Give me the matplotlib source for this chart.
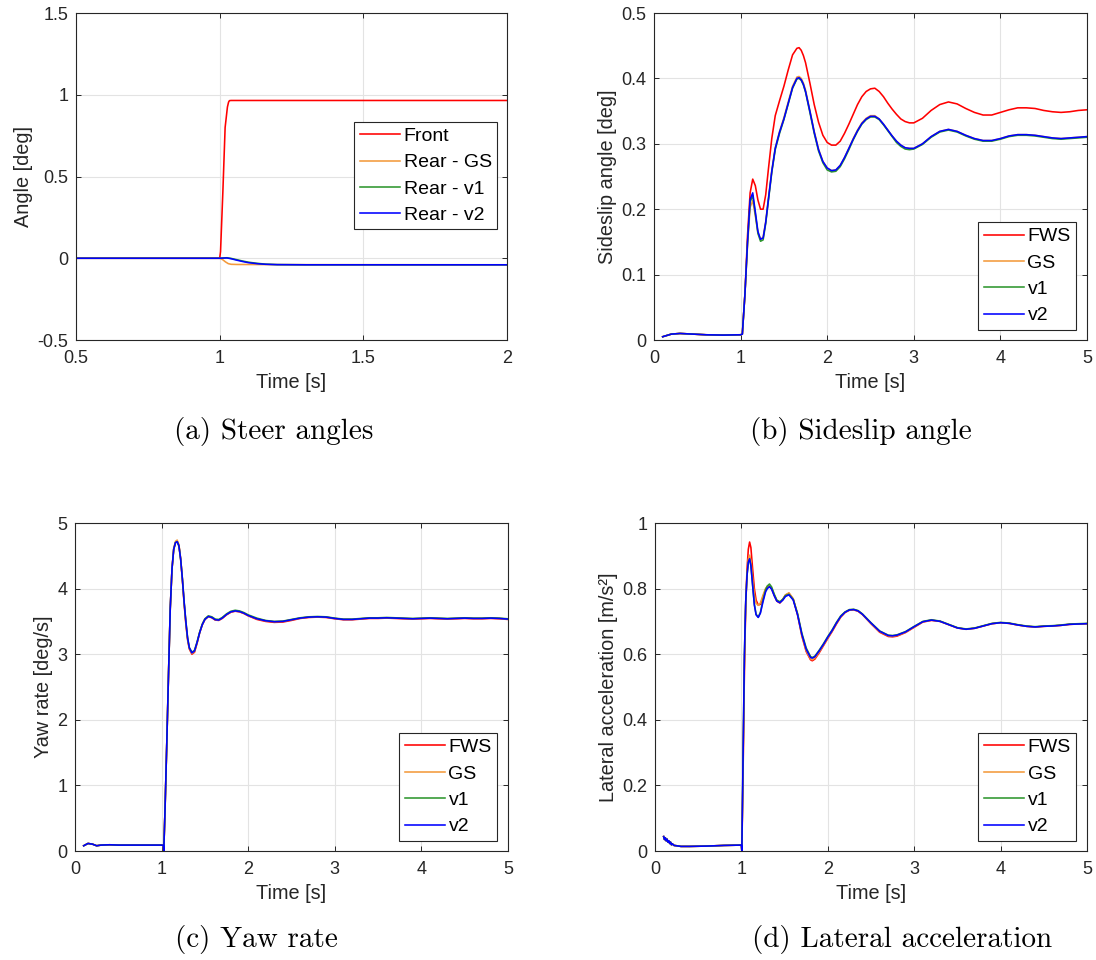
import matplotlib
matplotlib.use("Agg")
import matplotlib.pyplot as plt
from matplotlib.ticker import FormatStrFormatter

plt.rcParams["font.family"] = ["Liberation Sans", "DejaVu Sans"]
plt.rcParams["axes.unicode_minus"] = False

# ---------------- colours / labels ----------------
C_RED = "#FF0000"
C_ORANGE = "#F39A3C"
C_GREEN = "#2E962E"
C_BLUE = "#0000FF"

steer_labels = ["Front", "Rear - GS", "Rear - v1", "Rear - v2"]
case_labels = ["FWS", "GS", "v1", "v2"]

# ---------------- (a) steer angles ----------------
ta_front = [0.5, 1.0, 1.003, 1.011, 1.019, 1.027, 1.031, 1.034, 1.04, 2.0]
front = [0.0, 0.0, 0.04, 0.40, 0.80, 0.925, 0.955, 0.964, 0.965, 0.965]

ta_gs = [0.5, 1.0, 1.01, 1.02, 1.03, 1.04, 1.06, 1.2, 2.0]
rear_gs = [0.0, 0.0, -0.008, -0.022, -0.033, -0.037, -0.038, -0.039, -0.040]

ta_v = [0.5, 1.0, 1.025, 1.04, 1.06, 1.08, 1.10, 1.13, 1.16, 1.20, 1.30, 2.0]
rear_v1 = [0.0, 0.0, 0.003, -0.001, -0.009, -0.017, -0.024, -0.031, -0.036, -0.039, -0.040, -0.040]
rear_v2 = [0.0, 0.0, 0.002, -0.003, -0.012, -0.020, -0.027, -0.033, -0.037, -0.039, -0.040, -0.040]

# ---------------- (b) sideslip angle ----------------
tb = [0.1, 0.2, 0.3, 0.45, 0.6, 0.8, 1.0, 1.02,
      1.05, 1.08, 1.11, 1.14, 1.17, 1.2, 1.23, 1.26, 1.29, 1.32,
      1.36, 1.40,
      1.45, 1.50, 1.55, 1.60, 1.65, 1.675, 1.70, 1.725, 1.75, 1.80, 1.85, 1.90, 1.95, 2.0,
      2.05, 2.1, 2.15, 2.2, 2.25, 2.3, 2.35, 2.4, 2.45, 2.5,
      2.55, 2.6, 2.65, 2.7, 2.75, 2.8, 2.85, 2.9, 2.95, 3.0,
      3.1, 3.2, 3.3, 3.4, 3.5, 3.6, 3.7, 3.8, 3.9, 4.0,
      4.1, 4.2, 4.3, 4.4, 4.5, 4.6, 4.7, 4.8, 4.9, 5.0]
beta_pre = [0.005, 0.009, 0.010, 0.009, 0.008, 0.0075, 0.008, 0.009]
beta_fws = beta_pre + [
    0.07, 0.16, 0.225, 0.246, 0.236, 0.214, 0.200, 0.200, 0.222, 0.260,
    0.308, 0.343,
    0.366, 0.388, 0.413, 0.436, 0.446, 0.447, 0.443, 0.435, 0.424, 0.393, 0.360, 0.333, 0.313, 0.302,
    0.298, 0.298, 0.304, 0.316, 0.330, 0.345, 0.360, 0.372, 0.380, 0.384,
    0.385, 0.380, 0.372, 0.362, 0.353, 0.345, 0.338, 0.334, 0.332, 0.332,
    0.339, 0.351, 0.360, 0.364, 0.361, 0.354, 0.348, 0.344, 0.344, 0.348,
    0.352, 0.355, 0.355, 0.354, 0.351, 0.349, 0.348, 0.349, 0.351, 0.352]
beta_gs = beta_pre + [
    0.07, 0.145, 0.203, 0.213, 0.190, 0.164, 0.154, 0.157, 0.181, 0.215,
    0.259, 0.294,
    0.319, 0.340, 0.364, 0.388, 0.402, 0.403, 0.400, 0.393, 0.382, 0.351, 0.319, 0.292, 0.273, 0.263,
    0.259, 0.260, 0.267, 0.279, 0.293, 0.308, 0.321, 0.332, 0.339, 0.343,
    0.343, 0.338, 0.330, 0.321, 0.312, 0.304, 0.298, 0.294, 0.293, 0.293,
    0.300, 0.311, 0.319, 0.322, 0.319, 0.313, 0.308, 0.305, 0.305, 0.308,
    0.312, 0.314, 0.314, 0.313, 0.311, 0.309, 0.308, 0.309, 0.310, 0.311]
beta_v1 = beta_pre + [
    0.07, 0.148, 0.211, 0.221, 0.193, 0.163, 0.151, 0.153, 0.178, 0.212,
    0.256, 0.291,
    0.316, 0.337, 0.361, 0.385, 0.399, 0.400, 0.397, 0.390, 0.379, 0.348, 0.316, 0.289, 0.271, 0.260,
    0.257, 0.258, 0.265, 0.277, 0.291, 0.306, 0.319, 0.330, 0.337, 0.341,
    0.341, 0.337, 0.329, 0.320, 0.311, 0.302, 0.296, 0.292, 0.291, 0.292,
    0.299, 0.310, 0.318, 0.321, 0.318, 0.312, 0.307, 0.304, 0.304, 0.307,
    0.311, 0.313, 0.313, 0.312, 0.310, 0.308, 0.307, 0.308, 0.309, 0.310]
beta_v2 = beta_pre + [
    0.07, 0.15, 0.215, 0.225, 0.196, 0.166, 0.154, 0.156, 0.180, 0.214,
    0.258, 0.293,
    0.318, 0.338, 0.362, 0.386, 0.400, 0.401, 0.398, 0.391, 0.380, 0.350, 0.318, 0.291, 0.273, 0.263,
    0.259, 0.260, 0.267, 0.279, 0.293, 0.307, 0.320, 0.331, 0.338, 0.342,
    0.342, 0.338, 0.330, 0.321, 0.312, 0.304, 0.298, 0.294, 0.293, 0.293,
    0.300, 0.311, 0.319, 0.322, 0.319, 0.313, 0.308, 0.305, 0.305, 0.308,
    0.312, 0.314, 0.314, 0.313, 0.311, 0.309, 0.308, 0.309, 0.310, 0.311]

# ---------------- (c) yaw rate ----------------
tc = [0.1, 0.15, 0.2, 0.25, 0.3, 0.4, 0.5, 0.7, 0.9, 1.0, 1.02, 1.025,
      1.04, 1.06, 1.08, 1.10, 1.12, 1.14, 1.16, 1.18, 1.2, 1.22, 1.24, 1.26, 1.28, 1.3, 1.32,
      1.35, 1.38, 1.41, 1.44, 1.47, 1.5,
      1.54, 1.58, 1.62, 1.66, 1.7,
      1.75, 1.8, 1.85, 1.9, 1.95, 2.0,
      2.1, 2.2, 2.3, 2.4, 2.5, 2.6, 2.7, 2.8, 2.9, 3.0,
      3.1, 3.2, 3.3, 3.4, 3.5, 3.6, 3.7, 3.8, 3.9, 4.0,
      4.1, 4.2, 4.3, 4.4, 4.5, 4.6, 4.7, 4.8, 4.9, 5.0]
yaw_pre = [0.08, 0.115, 0.105, 0.08, 0.09, 0.095, 0.09, 0.09, 0.09, 0.09, 0.085, 0.0]
yaw_fws = yaw_pre + [
    0.65, 1.65, 2.7, 3.7, 4.3, 4.6, 4.7, 4.72, 4.66, 4.45, 4.13, 3.77, 3.46, 3.22, 3.08,
    3.0, 3.03, 3.17, 3.33, 3.45, 3.53,
    3.575, 3.555, 3.52, 3.515, 3.545,
    3.6, 3.64, 3.655, 3.645, 3.62, 3.585,
    3.53, 3.5, 3.485, 3.49, 3.515, 3.545, 3.56, 3.565, 3.56, 3.54,
    3.525, 3.525, 3.535, 3.545, 3.545, 3.55, 3.545, 3.54, 3.535, 3.54,
    3.545, 3.54, 3.535, 3.54, 3.545, 3.54, 3.54, 3.545, 3.54, 3.53]
yaw_gs = yaw_pre + [
    0.65, 1.65, 2.7, 3.7, 4.3, 4.62, 4.72, 4.74, 4.67, 4.46, 4.15, 3.79, 3.48, 3.23, 3.09,
    3.01, 3.04, 3.17, 3.33, 3.45, 3.53,
    3.575, 3.56, 3.525, 3.52, 3.55,
    3.605, 3.645, 3.66, 3.65, 3.625, 3.59,
    3.54, 3.51, 3.495, 3.5, 3.525, 3.55, 3.565, 3.57, 3.565, 3.545,
    3.53, 3.53, 3.54, 3.55, 3.55, 3.555, 3.55, 3.545, 3.54, 3.545,
    3.55, 3.545, 3.54, 3.545, 3.55, 3.545, 3.545, 3.55, 3.545, 3.535]
yaw_v1 = yaw_pre + [
    0.65, 1.65, 2.7, 3.7, 4.3, 4.6, 4.7, 4.715, 4.65, 4.45, 4.15, 3.8, 3.5, 3.25, 3.1,
    3.03, 3.06, 3.19, 3.34, 3.46, 3.54,
    3.585, 3.57, 3.535, 3.53, 3.56,
    3.615, 3.655, 3.67, 3.66, 3.635, 3.6,
    3.55, 3.515, 3.5, 3.505, 3.53, 3.555, 3.57, 3.575, 3.57, 3.55,
    3.535, 3.535, 3.545, 3.555, 3.555, 3.56, 3.555, 3.55, 3.545, 3.55,
    3.555, 3.55, 3.545, 3.55, 3.555, 3.55, 3.55, 3.555, 3.55, 3.54]
yaw_v2 = yaw_pre + [
    0.65, 1.65, 2.7, 3.7, 4.3, 4.6, 4.7, 4.715, 4.65, 4.45, 4.15, 3.8, 3.5, 3.25, 3.1,
    3.02, 3.05, 3.18, 3.33, 3.45, 3.53,
    3.575, 3.56, 3.525, 3.52, 3.55,
    3.605, 3.645, 3.66, 3.65, 3.625, 3.59,
    3.54, 3.51, 3.495, 3.5, 3.525, 3.55, 3.565, 3.57, 3.565, 3.545,
    3.53, 3.53, 3.54, 3.55, 3.55, 3.555, 3.55, 3.545, 3.54, 3.545,
    3.55, 3.545, 3.54, 3.545, 3.55, 3.545, 3.545, 3.55, 3.545, 3.535]

# ---------------- (d) lateral acceleration ----------------
td = [0.1, 0.11, 0.12, 0.13, 0.14, 0.15, 0.16, 0.17, 0.18, 0.19, 0.2, 0.22, 0.25, 0.3,
      0.4, 0.6, 0.8, 1.0, 1.005,
      1.02, 1.035, 1.05, 1.065, 1.08, 1.095, 1.11, 1.13, 1.15, 1.17, 1.195, 1.22,
      1.25, 1.28, 1.3, 1.325, 1.35, 1.38, 1.41, 1.445, 1.48, 1.51, 1.55,
      1.6, 1.65, 1.7, 1.75, 1.8, 1.82, 1.85, 1.9, 1.95, 2.0, 2.05, 2.1, 2.15, 2.2,
      2.25, 2.3, 2.35, 2.4,
      2.5, 2.6, 2.7, 2.75, 2.8, 2.9, 3.0,
      3.1, 3.2, 3.3, 3.4, 3.5, 3.6, 3.7, 3.8, 3.9, 4.0,
      4.1, 4.2, 4.3, 4.4, 4.5, 4.6, 4.7, 4.8, 4.9, 5.0]
ay_pre = [0.044, 0.035, 0.040, 0.031, 0.036, 0.027, 0.031, 0.023, 0.027, 0.019, 0.022,
          0.017, 0.016, 0.014, 0.014, 0.015, 0.017, 0.018, 0.0]
ay_fws = ay_pre + [
    0.25, 0.55, 0.75, 0.86, 0.92, 0.942, 0.925, 0.86, 0.80, 0.765, 0.75, 0.752,
    0.775, 0.798, 0.805, 0.808, 0.800, 0.780, 0.762, 0.756, 0.767, 0.780, 0.786,
    0.768, 0.72, 0.655, 0.608, 0.583, 0.580, 0.585, 0.604, 0.626, 0.648, 0.669, 0.692, 0.713, 0.727,
    0.734, 0.735, 0.731, 0.721,
    0.693, 0.667, 0.654, 0.653, 0.655, 0.666, 0.682,
    0.698, 0.703, 0.700, 0.690, 0.680, 0.676, 0.679, 0.686, 0.693, 0.696,
    0.694, 0.689, 0.685, 0.683, 0.685, 0.686, 0.688, 0.691, 0.692, 0.693]
ay_gs = ay_pre + [
    0.27, 0.57, 0.75, 0.845, 0.89, 0.902, 0.885, 0.83, 0.78, 0.755, 0.749, 0.756,
    0.78, 0.80, 0.807, 0.810, 0.801, 0.781, 0.763, 0.757, 0.768, 0.781, 0.787,
    0.769, 0.722, 0.658, 0.611, 0.586, 0.583, 0.588, 0.607, 0.628, 0.65, 0.671, 0.694, 0.714, 0.728,
    0.735, 0.736, 0.732, 0.722,
    0.694, 0.669, 0.656, 0.655, 0.657, 0.667, 0.683,
    0.699, 0.704, 0.700, 0.690, 0.680, 0.676, 0.679, 0.686, 0.693, 0.696,
    0.694, 0.689, 0.685, 0.683, 0.685, 0.686, 0.688, 0.691, 0.692, 0.693]
ay_v1 = ay_pre + [
    0.3, 0.6, 0.76, 0.84, 0.88, 0.89, 0.87, 0.81, 0.752, 0.722, 0.713, 0.728,
    0.765, 0.797, 0.808, 0.814, 0.805, 0.783, 0.765, 0.760, 0.768, 0.779, 0.783,
    0.767, 0.724, 0.664, 0.619, 0.593, 0.590, 0.594, 0.612, 0.632, 0.654, 0.674, 0.697, 0.717, 0.729,
    0.736, 0.737, 0.733, 0.723,
    0.696, 0.671, 0.658, 0.657, 0.659, 0.669, 0.685,
    0.700, 0.705, 0.701, 0.691, 0.681, 0.677, 0.680, 0.687, 0.694, 0.697,
    0.695, 0.690, 0.686, 0.684, 0.686, 0.687, 0.689, 0.692, 0.693, 0.694]
ay_v2 = ay_pre + [
    0.3, 0.6, 0.76, 0.84, 0.88, 0.891, 0.87, 0.81, 0.75, 0.72, 0.712, 0.725,
    0.76, 0.79, 0.80, 0.806, 0.798, 0.778, 0.762, 0.757, 0.765, 0.776, 0.781,
    0.765, 0.72, 0.66, 0.615, 0.59, 0.588, 0.592, 0.61, 0.63, 0.652, 0.672, 0.695, 0.715, 0.728,
    0.735, 0.736, 0.732, 0.722,
    0.695, 0.67, 0.657, 0.656, 0.658, 0.668, 0.684,
    0.699, 0.704, 0.700, 0.690, 0.680, 0.676, 0.679, 0.686, 0.693, 0.696,
    0.694, 0.689, 0.685, 0.683, 0.685, 0.686, 0.688, 0.691, 0.692, 0.693]

# ---------------- figure ----------------
W, H = 1096, 960
fig = plt.figure(figsize=(W / 100, H / 100), dpi=100)


def px_axes(left, top, right, bottom):
    return fig.add_axes([left / W, 1 - bottom / H, (right - left) / W, (bottom - top) / H])


AXC = "#262626"
LW = 1.15
TICK_FS = 13
LABEL_FS = 14.3
LEG_FS = 14


def style(ax, xlim, xticks, ylim, yticks, xlabel, ylabel):
    ax.set_xlim(*xlim)
    ax.set_ylim(*ylim)
    ax.set_xticks(xticks)
    ax.set_yticks(yticks)
    ax.xaxis.set_major_formatter(FormatStrFormatter("%g"))
    ax.yaxis.set_major_formatter(FormatStrFormatter("%g"))
    ax.grid(True, color="#E3E3E3", linewidth=0.8)
    ax.set_axisbelow(True)
    for s in ax.spines.values():
        s.set_color(AXC)
        s.set_linewidth(0.8)
    ax.tick_params(direction="in", length=3.5, width=0.7, color=AXC,
                   labelcolor=AXC, labelsize=TICK_FS, top=True, right=True)
    ax.tick_params(axis="x", pad=7)
    ax.tick_params(axis="y", pad=5.5)
    ax.set_xlabel(xlabel, fontsize=LABEL_FS, color=AXC, labelpad=4.5)
    ax.set_ylabel(ylabel, fontsize=LABEL_FS, color=AXC, labelpad=3)


def legend(ax, labels, anchor, loc):
    lg = ax.legend(labels, loc=loc, bbox_to_anchor=anchor, borderaxespad=0,
                   fontsize=LEG_FS, fancybox=False, framealpha=1, edgecolor=AXC,
                   handlelength=2.05, handletextpad=0.2, labelspacing=0.45,
                   borderpad=0.28)
    lg.get_frame().set_linewidth(0.8)


# (a)
ax = px_axes(76, 13, 507, 340)
ax.plot(ta_front, front, color=C_RED, lw=LW)
ax.plot(ta_gs, rear_gs, color=C_ORANGE, lw=LW)
ax.plot(ta_v, rear_v1, color=C_GREEN, lw=LW)
ax.plot(ta_v, rear_v2, color=C_BLUE, lw=LW)
style(ax, (0.5, 2), [0.5, 1, 1.5, 2], (-0.5, 1.5), [-0.5, 0, 0.5, 1, 1.5],
      "Time [s]", "Angle [deg]")
legend(ax, steer_labels, (0.977, 0.667), "upper right")

# (b)
ax = px_axes(654, 13, 1087, 340)
for y, c in zip([beta_fws, beta_gs, beta_v1, beta_v2], [C_RED, C_ORANGE, C_GREEN, C_BLUE]):
    ax.plot(tb, y, color=c, lw=LW)
style(ax, (0, 5), range(6), (0, 0.5), [0, 0.1, 0.2, 0.3, 0.4, 0.5],
      "Time [s]", "Sideslip angle [deg]")
legend(ax, case_labels, (0.975, 0.031), "lower right")

# (c)
ax = px_axes(75, 523, 508, 851)
for y, c in zip([yaw_fws, yaw_gs, yaw_v1, yaw_v2], [C_RED, C_ORANGE, C_GREEN, C_BLUE]):
    ax.plot(tc, y, color=c, lw=LW)
style(ax, (0, 5), range(6), (0, 5), range(6), "Time [s]", "Yaw rate [deg/s]")
legend(ax, case_labels, (0.975, 0.031), "lower right")

# (d)
ax = px_axes(655, 523, 1087, 851)
for y, c in zip([ay_fws, ay_gs, ay_v1, ay_v2], [C_RED, C_ORANGE, C_GREEN, C_BLUE]):
    ax.plot(td, y, color=c, lw=LW)
style(ax, (0, 5), range(6), (0, 1), [0, 0.2, 0.4, 0.6, 0.8, 1],
      "Time [s]", "Lateral acceleration [m/s²]")
legend(ax, case_labels, (0.975, 0.031), "lower right")

# captions
cap = dict(fontsize=21, family="cmr10", va="center", ha="left", color="black")
fig.text(174 / W, 1 - 432 / H, "(a) Steer angles", **cap)
fig.text(750 / W, 1 - 432 / H, "(b) Sideslip angle", **cap)
fig.text(175 / W, 1 - 940 / H, "(c) Yaw rate", **cap)
fig.text(752 / W, 1 - 940 / H, "(d) Lateral acceleration", **cap)

fig.savefig("out.png", dpi=100)
